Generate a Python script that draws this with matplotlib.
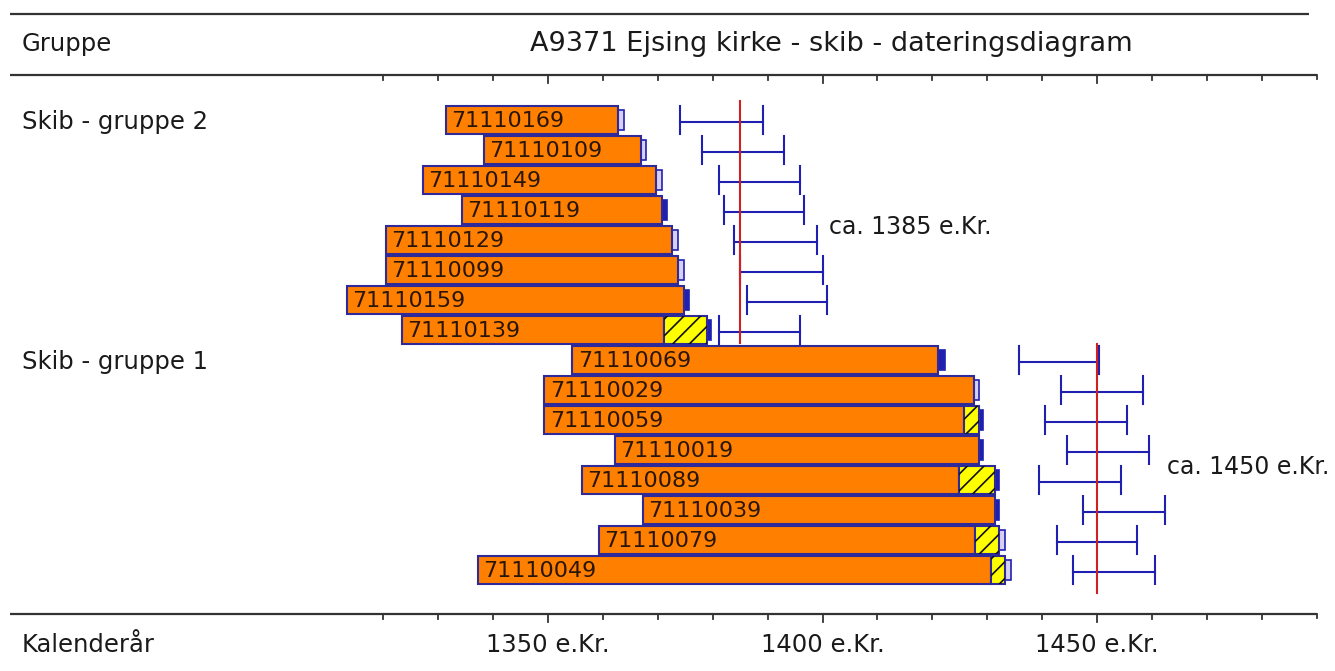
"""
A9371 Ejsing kirke - skib - dateringsdiagram (dendro dating bar chart).
"""
import matplotlib

matplotlib.use("Agg")
import matplotlib.pyplot as plt
import matplotlib.transforms as mtransforms
from matplotlib.patches import Rectangle

# --- data (years e.Kr.), top to bottom ---
SAMPLES = ["71110169", "71110109", "71110149", "71110119",
           "71110129", "71110099", "71110159", "71110139",
           "71110069", "71110029", "71110059", "71110019",
           "71110089", "71110039", "71110079", "71110049"]
START = [1331.4, 1338.3, 1327.2, 1334.3, 1320.5, 1320.5, 1313.4, 1323.4,
         1354.4, 1349.3, 1349.3, 1362.2, 1356.2, 1367.3, 1359.3, 1337.2]
HEART_END = [1362.8, 1366.9, 1369.7, 1370.8, 1372.6, 1373.7, 1374.8, 1371.1,
             1421.0, 1427.6, 1425.8, 1428.5, 1424.9, 1431.4, 1427.8, 1430.7]
SAP_END = [1362.8, 1366.9, 1369.7, 1370.8, 1372.6, 1373.7, 1374.8, 1379.0,
           1421.0, 1427.6, 1428.5, 1428.5, 1431.4, 1431.4, 1432.1, 1433.2]
BOX_END = [1363.8, 1367.9, 1370.8, 1371.7, 1373.7, 1374.8, 1375.7, 1379.7,
           1422.3, 1428.5, 1429.2, 1429.2, 1432.1, 1432.1, 1433.2, 1434.3]
BOX_SOLID = [False, False, False, True, False, False, True, True,
             True, False, True, True, True, True, False, False]
ERR_LO = [1374.0, 1378.1, 1381.1, 1382.1, 1383.9, 1385.0, 1386.2, 1381.1,
          1435.8, 1443.4, 1440.5, 1444.5, 1439.4, 1447.4, 1442.7, 1445.6]
ERR_HI = [1389.2, 1393.0, 1395.9, 1396.6, 1399.0, 1400.1, 1400.8, 1395.9,
          1450.4, 1458.4, 1455.5, 1459.5, 1454.4, 1462.4, 1457.3, 1460.6]

GROUP_NAMES = ["Skib - gruppe 2", "Skib - gruppe 1"]
GROUP_SIZE = [8, 8]
GROUP_DATE = [1385, 1450]
GROUP_DATE_LABELS = ["ca. 1385 e.Kr.", "ca. 1450 e.Kr."]

TICK_YEARS = list(range(1320, 1491, 10))
LABEL_YEARS = [1350, 1400, 1450]
TITLE = "A9371 Ejsing kirke - skib - dateringsdiagram"

# --- layout (pixel units on y, years on x) ---
W, H = 1335, 671
PX_PER_YEAR = 5.49
YEAR_AT_PX0 = 1350 - 548 / PX_PER_YEAR
ROW0, ROW_STEP, BAR_H = 119.5, 30, 28
LINE_X0, LINE_X1 = YEAR_AT_PX0 + 10 / PX_PER_YEAR, 1490

ORANGE = "#FF7F00"
EDGE = "#2E2A9A"
BLUE = "#2020B0"
RED = "#D02020"
TXT = "#1a1a1a"
FONT = "DejaVu Sans"
FS = 17.5

plt.rcParams["hatch.linewidth"] = 1.2


def main():
    fig = plt.figure(figsize=(W / 100, H / 100), dpi=100)
    ax = fig.add_axes([0, 0, 1, 1])
    ax.set_xlim(YEAR_AT_PX0, YEAR_AT_PX0 + W / PX_PER_YEAR)
    ax.set_ylim(H, 0)
    ax.axis("off")
    left = mtransforms.blended_transform_factory(ax.transAxes, ax.transData)

    # frame lines + ticks
    for yl in (14, 75, 614):
        x1 = LINE_X1 - 1.3 if yl == 14 else LINE_X1
        ax.plot([LINE_X0, x1], [yl, yl], color="#333333", lw=1.6,
                solid_capstyle="butt")
    for yl in (75, 614):
        for t in TICK_YEARS:
            ln = 8 if t in LABEL_YEARS else 5
            if t == TICK_YEARS[-1]:
                ln = 4
            ax.plot([t, t], [yl, yl + ln], color="#333333", lw=1.3)

    ax.text(22 / W, 44, "Gruppe", transform=left, fontsize=FS,
            family=FONT, color=TXT, va="center")
    ax.text(831 / W, 44, TITLE, transform=left, fontsize=19.5,
            family=FONT, color=TXT, va="center", ha="center")
    ax.text(22 / W, 645, "Kalenderår", transform=left, fontsize=FS,
            family=FONT, color=TXT, va="center")
    for yr in LABEL_YEARS:
        ax.text(yr, 645, f"{yr} e.Kr.", fontsize=FS, family=FONT,
                color=TXT, va="center", ha="center")

    # bars
    for i, name in enumerate(SAMPLES):
        yc = ROW0 + i * ROW_STEP
        y0 = yc - BAR_H / 2
        ax.add_patch(Rectangle((START[i], y0), HEART_END[i] - START[i], BAR_H,
                               facecolor=ORANGE, edgecolor=EDGE, lw=1.5,
                               zorder=3))
        if SAP_END[i] > HEART_END[i]:
            ax.add_patch(Rectangle((HEART_END[i], y0), SAP_END[i] - HEART_END[i],
                                   BAR_H, facecolor="#FFFF00", edgecolor=EDGE,
                                   lw=1.5, zorder=3))
            ax.add_patch(Rectangle((HEART_END[i], y0), SAP_END[i] - HEART_END[i],
                                   BAR_H, facecolor="none", edgecolor="#111111",
                                   hatch="//", lw=0, zorder=4))
        ax.add_patch(Rectangle((SAP_END[i], y0 + 4), BOX_END[i] - SAP_END[i],
                               BAR_H - 8,
                               facecolor=BLUE if BOX_SOLID[i] else "#D8D0F0",
                               edgecolor=BLUE, lw=1.2, zorder=2))
        ax.annotate(name, (START[i], yc + 1.5), xytext=(4, 0),
                    textcoords="offset points", fontsize=16,
                    family=FONT, color="#2a1608",
                    va="center", ha="left", zorder=5)
        # dating interval
        ax.plot([ERR_LO[i], ERR_HI[i]], [yc + 2, yc + 2], color=BLUE, lw=1.5,
                zorder=3)
        for xe in (ERR_LO[i], ERR_HI[i]):
            ax.plot([xe, xe], [y0, y0 + BAR_H], color=BLUE, lw=1.5, zorder=3)

    # groups
    first = 0
    for g, gname in enumerate(GROUP_NAMES):
        last = first + GROUP_SIZE[g] - 1
        y_first = ROW0 + first * ROW_STEP
        y_last = ROW0 + last * ROW_STEP
        ax.text(22 / W, y_first + 3, gname, transform=left, fontsize=FS,
                family=FONT, color=TXT, va="center")
        top = y_first - 19 if g == 0 else y_first - 16
        bot = y_last + 13 if g == 0 else y_last + 23
        ax.plot([GROUP_DATE[g]] * 2, [top, bot], color=RED, lw=1.5, zorder=4)
        x_lab = max(ERR_HI[first:last + 1]) + 0.4
        ax.text(x_lab, (y_first + y_last) / 2 + 3, GROUP_DATE_LABELS[g],
                fontsize=FS - 0.5, family=FONT, color=TXT, va="center",
                ha="left")
        first = last + 1

    fig.savefig("out.png", dpi=100)
    plt.close(fig)


if __name__ == "__main__":
    main()
